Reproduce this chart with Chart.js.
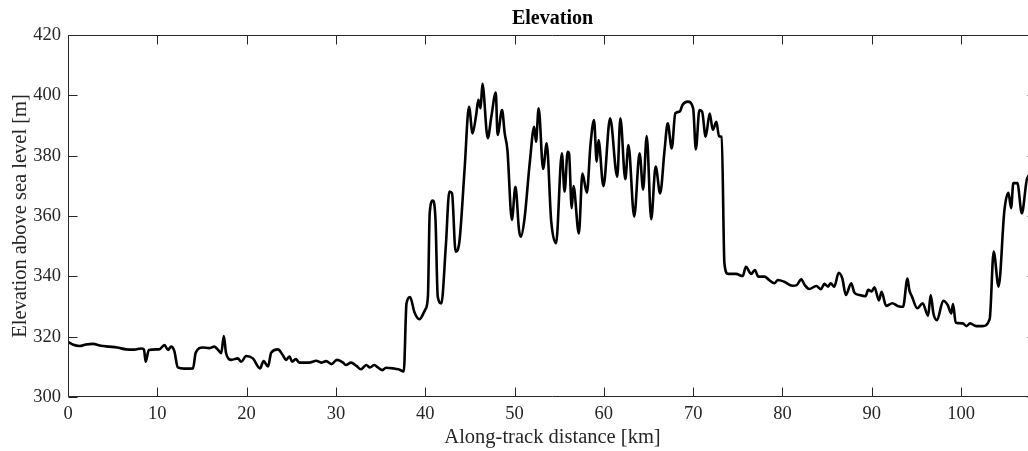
<!DOCTYPE html>
<html>
<head>
<meta charset="utf-8">
<script src="https://cdn.jsdelivr.net/npm/chart.js@4/dist/chart.umd.min.js"></script>
<style>
  html, body { margin: 0; padding: 0; background: #fff; overflow: hidden; }
  #wrap { width: 1040px; height: 451px; }
</style>
</head>
<body>
<div id="wrap"><canvas id="grafica" width="1040" height="451"></canvas></div>
<script>
// distancia a lo largo de la traza [km]
const distancias = [
  0, 0.6, 1.3, 2.0, 2.8, 3.7, 4.6, 5.5, 6.5, 7.4, 8.2, 8.5, 8.7, 9.05, 10.2, 10.8, 11.2, 11.55, 11.9, 12.3,
  13.0, 14.0, 14.3, 15.1, 15.8, 16.4, 16.8, 17.15, 17.45, 17.7, 18.3, 19.0, 19.4, 19.95, 20.7, 21.5, 21.9, 22.4, 22.75, 23.5,
  24.05, 24.4, 24.8, 25.1, 25.5, 25.9, 27.0, 27.8, 28.35, 28.9, 29.5, 30.1, 30.8, 31.1, 31.7, 32.3, 32.8, 33.4, 33.8, 34.3,
  34.7, 35.2, 35.6, 36.4, 37.0, 37.6, 37.9, 38.3, 38.8, 39.35, 40.0, 40.3, 40.5, 40.85, 41.15, 41.4, 41.8, 42.3, 42.7, 43.0,
  43.4, 43.8, 44.4, 44.9, 45.3, 45.7, 45.95, 46.2, 46.4, 47.0, 47.4, 47.9, 48.1, 48.6, 48.9, 49.2, 49.7, 50.1, 50.5, 50.7,
  51.1, 51.7, 52.2, 52.4, 52.7, 53.2, 53.6, 54.1, 54.65, 55.3, 55.6, 55.95, 56.1, 56.4, 56.6, 57.2, 57.6, 58.1, 58.5, 58.9,
  59.2, 59.4, 59.95, 60.7, 61.5, 61.85, 62.4, 62.75, 63.4, 64.0, 64.4, 64.8, 65.3, 65.8, 66.3, 66.8, 67.15, 67.6, 68.0, 68.5,
  68.8, 69.4, 70.0, 70.3, 70.7, 71.0, 71.4, 71.85, 72.2, 72.6, 72.9, 73.2, 73.5, 73.9, 74.8, 75.55, 75.9, 76.5, 76.9, 77.3,
  78.0, 78.5, 79.1, 79.5, 80.2, 81.1, 81.6, 82.1, 82.5, 83.0, 83.8, 84.3, 84.7, 85.1, 85.4, 85.8, 86.3, 86.7, 87.1, 87.7,
  88.05, 88.6, 89.3, 89.6, 90.0, 90.3, 90.8, 91.1, 91.6, 92.3, 92.9, 93.5, 94.0, 94.2, 94.5, 95.1, 95.7, 96.3, 96.6, 96.9,
  97.3, 98.0, 98.5, 98.9, 99.1, 99.4, 100.2, 100.6, 101.0, 101.7, 102.4, 103.2, 103.65, 104.2, 104.85, 105.3, 105.6, 105.85, 106.3, 106.8,
  107.4, 108.5
];

// elevacion sobre el nivel del mar [m]
const elevaciones = [
  318.3, 317.3, 316.9, 317.4, 317.6, 317.0, 316.7, 316.4, 315.8, 315.7, 316.1, 315.8, 311.7, 315.6, 315.8, 317.2, 315.6, 316.7, 315.3, 309.8,
  309.4, 309.5, 314.7, 316.4, 316.2, 316.7, 315.6, 314.5, 320.2, 314.5, 312.3, 312.8, 311.7, 313.6, 312.8, 309.5, 311.9, 310.1, 314.7, 315.8,
  313.9, 312.3, 313.4, 311.7, 312.6, 311.4, 311.4, 312.0, 311.4, 311.9, 310.9, 312.3, 311.4, 310.6, 311.4, 310.3, 309.2, 310.6, 309.8, 310.6,
  309.8, 308.9, 309.7, 309.5, 309.2, 308.5, 331.0, 333.1, 328.0, 325.8, 329.0, 333.3, 360.9, 365.1, 358.7, 333.3, 331.0, 349.8, 368.1, 367.5,
  348.2, 350.9, 375.2, 396.2, 387.4, 393.5, 398.5, 395.7, 403.8, 385.8, 392.9, 400.9, 386.9, 395.1, 387.4, 381.9, 358.7, 369.7, 355.4, 353.1,
  358.7, 377.5, 389.6, 384.6, 395.7, 375.6, 384.1, 358.5, 351.0, 380.8, 368.1, 381.3, 380.8, 362.6, 369.9, 354.2, 374.1, 367.7, 383.5, 391.8,
  378.0, 385.2, 369.9, 392.4, 373.0, 392.4, 372.2, 383.5, 359.8, 380.8, 368.8, 386.5, 358.9, 376.4, 367.5, 381.9, 390.7, 382.4, 394.0, 394.6,
  396.8, 397.9, 395.7, 382.1, 395.1, 394.6, 386.3, 394.0, 388.6, 391.2, 386.4, 386.3, 344.3, 340.8, 340.8, 340.1, 343.2, 340.8, 342.1, 339.9,
  339.9, 338.8, 337.7, 338.8, 338.2, 336.9, 337.1, 339.0, 337.1, 335.8, 336.8, 335.7, 337.5, 336.6, 337.7, 336.6, 341.2, 339.3, 333.8, 337.7,
  334.6, 333.8, 333.4, 335.5, 335.0, 336.4, 332.0, 334.9, 330.2, 331.1, 330.2, 329.9, 339.3, 335.5, 333.3, 329.4, 331.1, 326.9, 333.8, 327.7,
  325.5, 331.9, 330.5, 327.7, 330.8, 324.6, 324.4, 323.5, 324.4, 323.5, 323.5, 325.8, 348.2, 336.6, 361.9, 367.7, 362.6, 370.9, 370.9, 360.9,
  372.5, 375.0
];

const ticksX = [0, 10, 20, 30, 40, 50, 60, 70, 80, 90, 100];
const ticksY = [300, 320, 340, 360, 380, 400, 420];

const FUENTE = 'Liberation Serif, Times New Roman, serif';
const COLOR_EJES = '#262626';

// caja con marcas hacia dentro (estilo MATLAB)
const cajaEjes = {
  id: 'cajaEjes',
  afterDraw(chart) {
    const { ctx, chartArea: { left, right, top, bottom }, scales: { x, y } } = chart;
    const largo = 9;
    ctx.save();
    ctx.strokeStyle = COLOR_EJES;
    ctx.lineWidth = 1;
    ctx.beginPath();
    const l = Math.round(left) + 0.5, r = Math.round(right) - 0.5;
    const t = Math.round(top) + 0.5, b = Math.round(bottom) - 0.5;
    ctx.rect(l, t, r - l, b - t);
    x.ticks.forEach(tick => {
      const px = Math.round(x.getPixelForValue(tick.value)) + 0.5;
      ctx.moveTo(px, b); ctx.lineTo(px, b - largo);
      ctx.moveTo(px, t); ctx.lineTo(px, t + largo);
    });
    y.ticks.forEach(tick => {
      const py = Math.round(y.getPixelForValue(tick.value)) + 0.5;
      ctx.moveTo(l, py); ctx.lineTo(l + largo, py);
      ctx.moveTo(r, py); ctx.lineTo(r - largo, py);
    });
    ctx.stroke();
    ctx.restore();
  }
};

new Chart(document.getElementById('grafica'), {
  type: 'line',
  data: {
    datasets: [{
      label: 'Elevation',
      data: distancias.map((d, i) => ({ x: d, y: elevaciones[i] })),
      borderColor: '#000',
      borderWidth: 2.6,
      borderJoinStyle: 'round',
      borderCapStyle: 'round',
      cubicInterpolationMode: 'monotone',
      pointRadius: 0,
      fill: false
    }]
  },
  options: {
    responsive: false,
    animation: false,
    devicePixelRatio: 1,
    layout: { padding: { left: 0, right: 3, top: 0, bottom: 0 } },
    plugins: {
      legend: { display: false },
      tooltip: { enabled: false },
      title: {
        display: true,
        fullSize: false, // centrado sobre el area de la grafica
        text: 'Elevation',
        color: '#000',
        font: { family: FUENTE, size: 20, weight: 'bold' },
        padding: { top: 7, bottom: 4 }
      }
    },
    scales: {
      x: {
        type: 'linear',
        min: 0,
        max: 108.5,
        afterFit: scale => { scale.height = 54; },
        afterBuildTicks: scale => { scale.ticks = ticksX.map(v => ({ value: v })); },
        grid: { display: false, drawTicks: false },
        border: { display: false },
        ticks: {
          color: COLOR_EJES,
          padding: 6,
          maxRotation: 0,
          font: { family: FUENTE, size: 18.5 }
        },
        title: {
          display: true,
          text: 'Along-track distance [km]',
          color: COLOR_EJES,
          font: { family: FUENTE, size: 20.5 },
          padding: { top: 0, bottom: 1 }
        }
      },
      y: {
        min: 300,
        max: 420,
        afterFit: scale => { scale.width = 68; },
        afterBuildTicks: scale => { scale.ticks = ticksY.map(v => ({ value: v })); },
        grid: { display: false, drawTicks: false },
        border: { display: false },
        ticks: {
          color: COLOR_EJES,
          padding: 7,
          font: { family: FUENTE, size: 18.5 }
        },
        title: {
          display: true,
          text: 'Elevation above sea level [m]',
          color: COLOR_EJES,
          font: { family: FUENTE, size: 20.5 },
          padding: { top: 8, bottom: 0 }
        }
      }
    }
  },
  plugins: [cajaEjes]
});
</script>
</body>
</html>
